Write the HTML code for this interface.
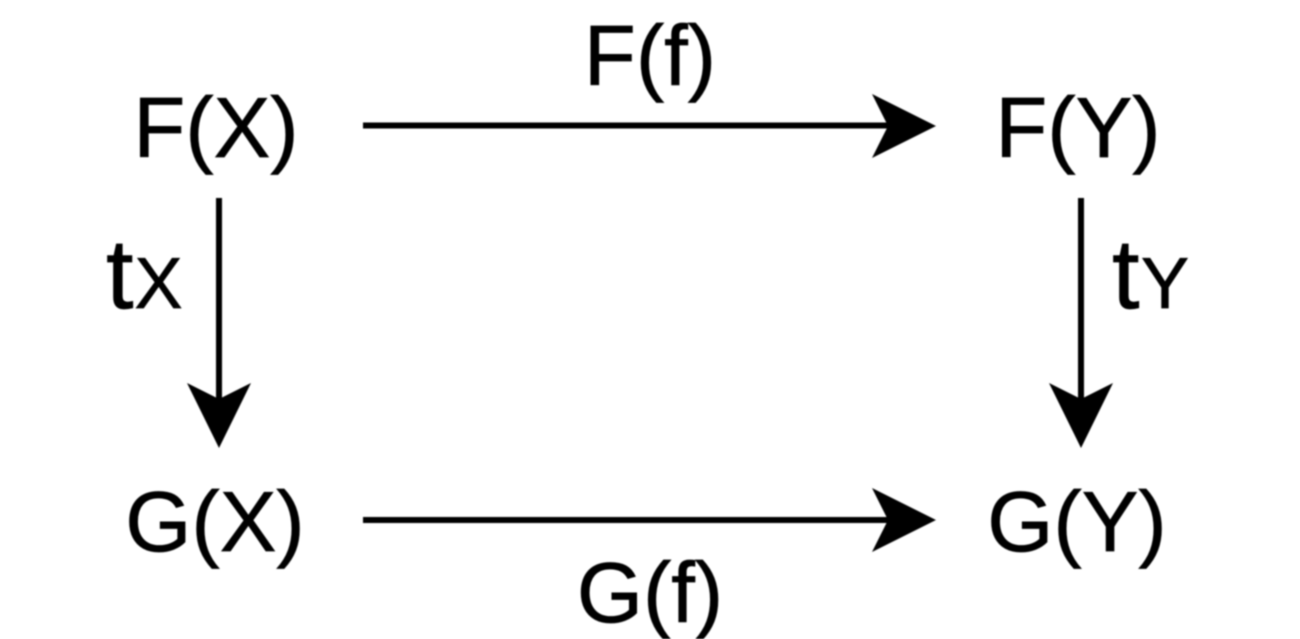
<!DOCTYPE html>
<html>
<head>
<meta charset="utf-8">
<style>
html,body{margin:0;padding:0;background:#fff;width:1300px;height:639px;overflow:hidden}
svg{display:block;filter:blur(0.9px)}
text{font-family:"Liberation Sans",Arial,sans-serif;font-size:85px;fill:#000;stroke:#000;stroke-width:0.7px}
.m{text-anchor:middle}
</style>
</head>
<body>
<svg width="1300" height="639" viewBox="0 0 1300 639" xmlns="http://www.w3.org/2000/svg">
<rect width="1300" height="639" fill="#fff"/>
<g stroke="#000" stroke-width="6" fill="none">
<line x1="363" y1="125.5" x2="890" y2="125.5"/>
<line x1="363" y1="520" x2="890" y2="520"/>
<line x1="219" y1="198" x2="219" y2="402"/>
<line x1="1081" y1="198" x2="1081" y2="402"/>
</g>
<g fill="#000">
<polygon points="936,126 872,94 888,126 872,158"/>
<polygon points="936,520 872,488 888,520 872,552"/>
<polygon points="219,448 187,383 219,399 251,383"/>
<polygon points="1081,448 1049,383 1081,399 1113,383"/>
</g>
<text class="m" x="216" y="157">F(X)</text>
<text class="m" x="1078" y="157">F(Y)</text>
<text class="m" x="215" y="551">G(X)</text>
<text class="m" x="1077" y="551">G(Y)</text>
<text class="m" x="650" y="85">F(f)</text>
<text class="m" x="650" y="622">G(f)</text>
<text x="106" y="308" style="font-size:99px">t</text>
<text x="134.5" y="308" style="font-size:72px">X</text>
<text x="1112" y="308" style="font-size:99px">t</text>
<text x="1141" y="308" style="font-size:72px">Y</text>
</svg>
</body>
</html>
